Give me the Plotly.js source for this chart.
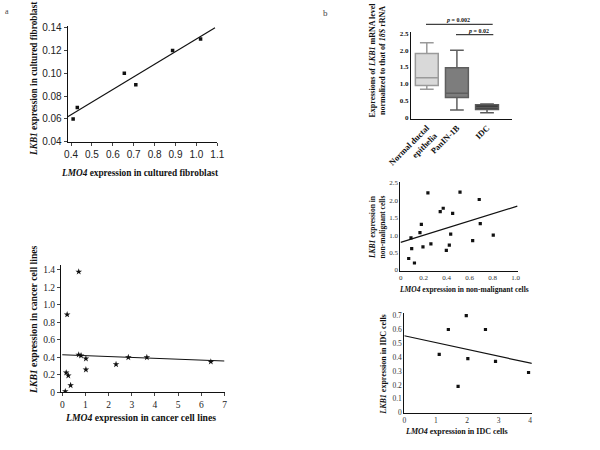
<!DOCTYPE html>
<html>
<head>
<meta charset="utf-8">
<script src="https://cdn.plot.ly/plotly-3.0.1.min.js"></script>
<style>html,body{margin:0;padding:0;background:#fff;}#chart{width:600px;height:450px;}</style>
</head>
<body>
<div id="chart"></div>
<script>
// Panel a (top): cultured fibroblast
const fibroLMO4 = [0.41, 0.43, 0.655, 0.71, 0.886, 1.02];
const fibroLKB1 = [0.06, 0.07, 0.10, 0.09, 0.12, 0.13];
const fibroFitX = [0.38, 1.089];
const fibroFitY = [0.0614, 0.14];

// Panel a (bottom): cancer cell lines
const cancerLMO4 = [0.71, 0.21, 0.71, 0.81, 1.02, 1.02, 2.32, 2.85, 3.65, 6.41, 0.17, 0.26, 0.36, 0.13];
const cancerLKB1 = [1.38, 0.89, 0.43, 0.42, 0.385, 0.26, 0.32, 0.40, 0.40, 0.35, 0.225, 0.19, 0.08, 0.01];
const cancerFitX = [0, 7];
const cancerFitY = [0.43, 0.358];

// Panel b (top): box plot
const boxCategories = ["Normal ductal<br>epithelia", "PanIN-1B", "IDC"];
const boxQ1 = [0.95, 0.59, 0.24];
const boxMedian = [1.18, 0.72, 0.30];
const boxQ3 = [1.90, 1.48, 0.38];
const boxLower = [0.84, 0.22, 0.14];
const boxUpper = [2.22, 2.00, 0.40];
const boxFill = ["#d9d9d9", "#7d7d7d", "#363636"];
const boxLine = ["#9a9a9a", "#5e5e5e", "#5a5a5a"];
const pLabels = ["<i>p</i> = 0.002", "<i>p</i> = 0.02"];

// Panel b (middle): non-malignant cells
const nonMalLMO4 = [0.07, 0.12, 0.09, 0.096, 0.168, 0.18, 0.194, 0.237, 0.263, 0.344, 0.37, 0.397, 0.423, 0.435, 0.452, 0.516, 0.626, 0.683, 0.692, 0.805];
const nonMalLKB1 = [0.33, 0.20, 0.92, 0.61, 1.07, 1.31, 0.66, 2.21, 0.75, 1.67, 1.77, 0.56, 0.71, 1.03, 1.62, 2.23, 0.84, 2.02, 1.33, 1.00];
const nonMalFitX = [0, 1.014];
const nonMalFitY = [0.79, 1.83];

// Panel b (bottom): IDC cells
const idcLMO4 = [1.11, 1.40, 1.97, 2.58, 2.02, 2.90, 1.71, 3.95];
const idcLKB1 = [0.42, 0.60, 0.70, 0.60, 0.39, 0.37, 0.19, 0.29];
const idcFitX = [0, 4.06];
const idcFitY = [0.555, 0.355];

// tick labels
const cancerYVals = [0, 0.2, 0.4, 0.6, 0.8, 1.0, 1.2, 1.4];
const cancerYText = ["0", "0.2", "0.4", "0.6", "0.8", "1.0", "1.2", "1.4"];
const boxYVals = [0, 0.5, 1.0, 1.5, 2.0, 2.5];
const boxYText = ["0", "0.5", "1.0", "1.5", "2.0", "2.5"];
const nonMalXVals = [0, 0.2, 0.4, 0.6, 0.8, 1.0];
const nonMalXText = ["0", "0.2", "0.4", "0.6", "0.8", "1.0"];
const nonMalYVals = [0, 0.5, 1.0, 1.5, 2.0, 2.5];
const nonMalYText = ["0", "0.5", "1.0", "1.5", "2.0", "2.5"];
const idcYVals = [0, 0.1, 0.2, 0.3, 0.4, 0.5, 0.6, 0.7];
const idcYText = ["0", "0.1", "0.2", "0.3", "0.4", "0.5", "0.6", "0.7"];

const SERIF = "Liberation Serif, Times New Roman, serif";
const SANS = "Liberation Sans, Arial, sans-serif";

const W = 600, H = 450;
const dx = (a, b) => [a / W, b / W];
const dy = (top, bottom) => [1 - bottom / H, 1 - top / H];

const traces = [];
function scatter(x, y, ax, symbol, size) {
  traces.push({type: "scatter", mode: "markers", x: x, y: y, xaxis: "x" + ax, yaxis: "y" + ax,
    marker: {color: "#111", size: size, symbol: symbol}, hoverinfo: "none", showlegend: false});
}
function fit(x, y, ax) {
  traces.push({type: "scatter", mode: "lines", x: x, y: y, xaxis: "x" + ax, yaxis: "y" + ax,
    line: {color: "#111", width: 1.2}, hoverinfo: "none", showlegend: false});
}
scatter(fibroLMO4, fibroLKB1, "", "square", 3.5); fit(fibroFitX, fibroFitY, "");
scatter(cancerLMO4, cancerLKB1, "2", "star", 5); fit(cancerFitX, cancerFitY, "2");
for (let i = 0; i < boxCategories.length; i++) {
  traces.push({type: "box", x: [boxCategories[i]], q1: [boxQ1[i]], median: [boxMedian[i]], q3: [boxQ3[i]],
    lowerfence: [boxLower[i]], upperfence: [boxUpper[i]], xaxis: "x3", yaxis: "y3",
    fillcolor: boxFill[i], line: {color: boxLine[i], width: 1.5}, width: 0.76, whiskerwidth: 0.6,
    hoverinfo: "none", showlegend: false});
}
scatter(nonMalLMO4, nonMalLKB1, "4", "square", 3.2); fit(nonMalFitX, nonMalFitY, "4");
scatter(idcLMO4, idcLKB1, "5", "square", 3.2); fit(idcFitX, idcFitY, "5");

function axis(extra) {
  return Object.assign({showline: true, linecolor: "#111", linewidth: 1, showgrid: false, zeroline: false,
    ticks: "", fixedrange: true}, extra);
}

const layout = {
  width: W, height: H, margin: {l: 0, r: 0, t: 0, b: 0}, paper_bgcolor: "#fff", plot_bgcolor: "rgba(0,0,0,0)",
  showlegend: false, boxmode: "overlay",
  xaxis: axis({domain: dx(67.7, 217.3), range: [0.384, 1.1], tick0: 0.4, dtick: 0.1, tickformat: ".1f",
    ticks: "outside", ticklen: 3, tickfont: {family: SANS, size: 10, color: "#222"}, anchor: "y"}),
  yaxis: axis({domain: dy(26, 141.7), range: [0.04, 0.1415], tick0: 0.04, dtick: 0.02, tickformat: ".2f",
    ticks: "outside", ticklen: 3, tickfont: {family: SANS, size: 10, color: "#222"}, anchor: "x"}),
  xaxis2: axis({domain: dx(61, 224.5), range: [-0.055, 7.0], dtick: 1, tick0: 0,
    ticks: "outside", ticklen: 3, tickfont: {family: SERIF, size: 9.5, color: "#222"}, anchor: "y2"}),
  yaxis2: axis({domain: dy(265, 392.3), range: [0, 1.457], tickvals: cancerYVals, ticktext: cancerYText,
    ticks: "outside", ticklen: 3, tickfont: {family: SERIF, size: 9.5, color: "#222"}, anchor: "x2"}),
  xaxis3: axis({domain: dx(411, 511.7), range: [-0.525, 2.82], type: "category", tickangle: -45,
    tickfont: {family: SERIF, size: 8.5, color: "#111", weight: "bold"}, anchor: "y3"}),
  yaxis3: axis({domain: dy(31.7, 118.7), range: [-0.036, 2.548], tickvals: boxYVals, ticktext: boxYText,
    tickfont: {family: SERIF, size: 7, color: "#111", weight: "bold"}, anchor: "x3"}),
  xaxis4: axis({domain: dx(400.3, 518), range: [-0.003, 1.02], tickvals: nonMalXVals, ticktext: nonMalXText,
    tickfont: {family: SERIF, size: 7, color: "#333"}, anchor: "y4"}),
  yaxis4: axis({domain: dy(181.7, 270.7), range: [-0.02, 2.53], tickvals: nonMalYVals, ticktext: nonMalYText,
    tickfont: {family: SERIF, size: 7, color: "#333"}, anchor: "x4"}),
  xaxis5: axis({domain: dx(404.3, 531.7), range: [0, 4.05], dtick: 1, tick0: 0,
    tickfont: {family: SERIF, size: 7.5, color: "#333"}, anchor: "y5"}),
  yaxis5: axis({domain: dy(313.3, 412.7), range: [0, 0.717], tickvals: idcYVals, ticktext: idcYText,
    tickfont: {family: SERIF, size: 7.5, color: "#333"}, anchor: "x5"}),
  shapes: [
    {type: "line", xref: "paper", yref: "paper", x0: 426 / W, x1: 492.7 / W, y0: 1 - 24.3 / H, y1: 1 - 24.3 / H, line: {color: "#111", width: 1}},
    {type: "line", xref: "paper", yref: "paper", x0: 456 / W, x1: 493.3 / W, y0: 1 - 34.7 / H, y1: 1 - 34.7 / H, line: {color: "#111", width: 1}}
  ],
  annotations: []
};

function ann(text, px, py, size, angle, extra) {
  layout.annotations.push(Object.assign({text: text, xref: "paper", yref: "paper", x: px / W, y: 1 - py / H,
    xanchor: "center", yanchor: "middle", showarrow: false, textangle: angle || 0,
    font: {family: SERIF, size: size, color: "#111"}}, extra || {}));
}
ann("a", 7, 11, 8, 0, {font: {family: SERIF, size: 8, color: "#444"}});
ann("b", 325, 13, 9, 0, {font: {family: SERIF, size: 9, color: "#444"}});
ann("<b><i>LKB1</i> expression in cultured fibroblast</b>", 34, 79, 9.3, -90);
ann("<b><i>LMO4</i> expression in cultured fibroblast</b>", 140, 173, 9.3, 0);
ann("<b><i>LKB1</i> expression in cancer cell lines</b>", 33, 320, 9.7, -90);
ann("<b><i>LMO4</i> expression in cancer cell lines</b>", 140, 417, 9.7, 0);
ann("<b>Expressions of <i>LKB1</i> mRNA level<br>normalized to that of <i>18S</i> rRNA</b>", 377.5, 60, 8, -90);
ann("<b>" + pLabels[0] + "</b>", 458, 20, 6, 0);
ann("<b>" + pLabels[1] + "</b>", 478, 31, 6, 0);
ann("<b><i>LKB1</i> expression in<br>non-malignant cells</b>", 377, 227, 7.5, -90);
ann("<b><i>LMO4</i> expression in non-malignant cells</b>", 464, 289, 7.5, 0);
ann("<b><i>LKB1</i> expression in IDC cells</b>", 382.7, 365, 8, -90);
ann("<b><i>LMO4</i> expression in IDC cells</b>", 456, 431.7, 8, 0);

Plotly.newPlot("chart", traces, layout, {staticPlot: true, displayModeBar: false});
</script>
</body>
</html>
